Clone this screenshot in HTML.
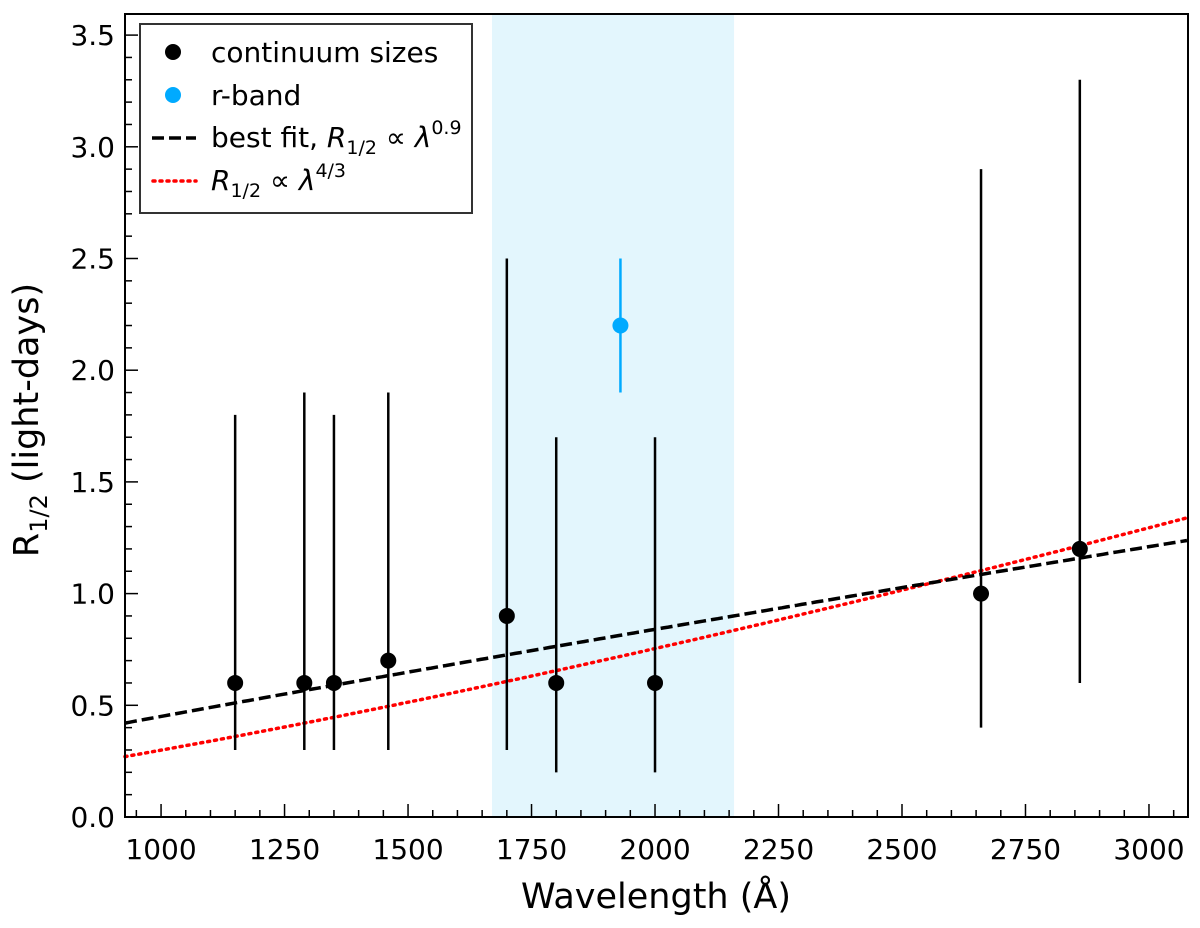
<!DOCTYPE html>
<html><head><meta charset="utf-8"><style>
body{margin:0;background:#fff}
svg text{font-family:"DejaVu Sans","Liberation Sans",sans-serif}
</style></head><body>
<svg id="c" width="1200" height="923" xmlns="http://www.w3.org/2000/svg"></svg>
<script>
const wavelengths=[1150,1290,1350,1460,1700,1800,2000,2660,2860];
const sizes=[0.6,0.6,0.6,0.7,0.9,0.6,0.6,1.0,1.2];
const errLow=[0.3,0.3,0.3,0.3,0.3,0.2,0.2,0.4,0.6];
const errHigh=[1.8,1.9,1.8,1.9,2.5,1.7,1.7,2.9,3.3];
const rbandWl=[1930];
const rbandSize=[2.2];
const rbandLow=[1.9];
const rbandHigh=[2.5];
const shadeRange=[1670,2160];
const xTicks=[1000,1250,1500,1750,2000,2250,2500,2750,3000];
const yTicks=[0.0,0.5,1.0,1.5,2.0,2.5,3.0,3.5];
const fitNorm=[0.84,0.9];
const theoryNorm=[0.754,4/3];

const L=125,R=1188,T=14,B=817;
const X0=927,X1=3079,Y0=0;
const xs=v=>L+(v-X0)/(X1-X0)*(R-L);
const ys=v=>B-(v-Y0)*223.4;
const svg=document.getElementById('c');
const NS='http://www.w3.org/2000/svg';
function mk(tag,attrs,parent){const e=document.createElementNS(NS,tag);for(const k in attrs)e.setAttribute(k,attrs[k]);(parent||svg).appendChild(e);return e;}

let sh=mk('rect',{x:xs(shadeRange[0]),y:T,width:xs(shadeRange[1])-xs(shadeRange[0]),height:B-T,fill:'#e3f6fd'});



function curve(norm,attrs,name){let d='';for(let w=X0;w<=X1;w+=10){d+=(d?'L':'M')+xs(w).toFixed(1)+','+ys(norm[0]*Math.pow(w/2000,norm[1])).toFixed(1);}
const p=mk('path',Object.assign({d:d,fill:'none'},attrs));

}
curve(theoryNorm,{stroke:'#f00','stroke-width':3.5,'stroke-dasharray':'2,5','stroke-linecap':'round'},'theory-line');
curve(fitNorm,{stroke:'#000','stroke-width':3.5,'stroke-dasharray':'12,5'},'fit-line');

wavelengths.forEach((w,i)=>{
const e=mk('line',{x1:xs(w),x2:xs(w),y1:ys(errLow[i]),y2:ys(errHigh[i]),stroke:'#000','stroke-width':2.5});


const c=mk('circle',{cx:xs(w),cy:ys(sizes[i]),r:8,fill:'#000'});


});
rbandWl.forEach((w,i)=>{
const e=mk('line',{x1:xs(w),x2:xs(w),y1:ys(rbandLow[i]),y2:ys(rbandHigh[i]),stroke:'#0af','stroke-width':2.5});


const c=mk('circle',{cx:xs(w),cy:ys(rbandSize[i]),r:8,fill:'#0af'});


});

for(let v=950;v<=3050;v+=50){const maj=v%250===0;const len=maj?13:7;
mk('line',{x1:xs(v),x2:xs(v),y1:B,y2:B-len,stroke:'#000','stroke-width':1.5});}
xTicks.forEach(v=>{const t=mk('text',{x:xs(v),y:B+42,'font-size':28,'text-anchor':'middle'});t.textContent=v;

});
for(let k=0;k<=36;k++){const v=k/10;if(ys(v)<T)break;const maj=k%5===0;const len=maj?13:7;
mk('line',{x1:L,x2:L+len,y1:ys(v),y2:ys(v),stroke:'#000','stroke-width':1.5});}
yTicks.forEach(v=>{const t=mk('text',{x:L-10,y:ys(v)+10,'font-size':28,'text-anchor':'end'});t.textContent=v.toFixed(1);

});
const fr=mk('rect',{x:L,y:T,width:R-L,height:B-T,fill:'none',stroke:'#000','stroke-width':2});


</script>
<svg width="1200" height="923" style="position:absolute;left:0;top:0" xmlns="http://www.w3.org/2000/svg">
<text x="656" y="908" font-size="35" text-anchor="middle">Wavelength (Å)</text>
<text transform="translate(38,420) rotate(-90)" font-size="35" text-anchor="middle">R<tspan font-size="24" dy="9">1/2</tspan><tspan dy="-9"> (light-days)</tspan></text>
<g>
<rect x="140" y="24" width="332" height="189" fill="#fff" stroke="#333" stroke-width="2"/>
<circle cx="173" cy="52" r="8" fill="#000"/>
<text x="211" y="62" font-size="28">continuum sizes</text>
<circle cx="173" cy="95" r="8" fill="#0af"/>
<text x="211" y="105" font-size="28">r-band</text>
<line x1="152" x2="196" y1="138" y2="138" stroke="#000" stroke-width="3.5" stroke-dasharray="12,5"/>
<text x="211" y="147" font-size="28">best fit, <tspan font-style="italic">R</tspan><tspan font-size="19" dy="7">1/2</tspan><tspan dy="-7"> ∝ </tspan><tspan font-style="italic">λ</tspan><tspan font-size="19" dy="-13">0.9</tspan></text>
<line x1="153" x2="196" y1="181" y2="181" stroke="#f00" stroke-width="3.5" stroke-dasharray="2,5" stroke-linecap="round"/>
<text x="211" y="190" font-size="28"><tspan font-style="italic">R</tspan><tspan font-size="19" dy="7">1/2</tspan><tspan dy="-7"> ∝ </tspan><tspan font-style="italic">λ</tspan><tspan font-size="19" dy="-13">4/3</tspan></text>
</g>
</svg>
</body></html>
